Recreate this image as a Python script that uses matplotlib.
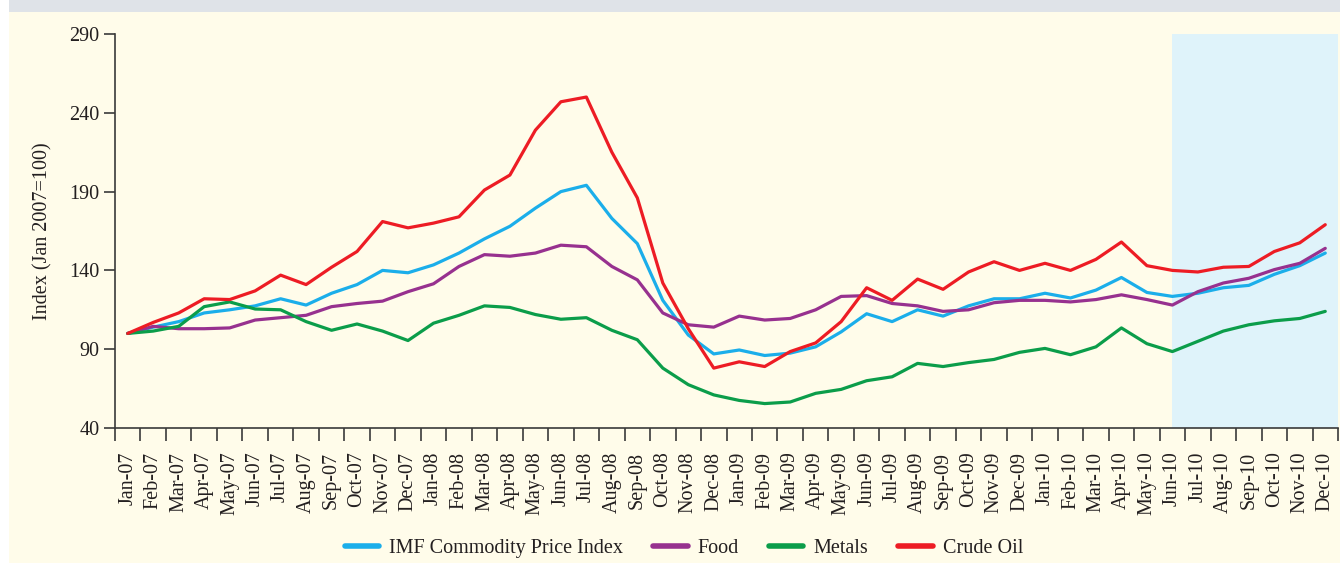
import numpy as np
import matplotlib
matplotlib.use('Agg')
import matplotlib.pyplot as plt
from matplotlib.patches import Rectangle
from matplotlib.ticker import FixedLocator, NullFormatter

# ----------------------------------------------------------------
# Data: monthly index values (Jan 2007 = 100)
# ----------------------------------------------------------------
months = ['Jan-07', 'Feb-07', 'Mar-07', 'Apr-07', 'May-07', 'Jun-07', 'Jul-07', 'Aug-07',
          'Sep-07', 'Oct-07', 'Nov-07', 'Dec-07', 'Jan-08', 'Feb-08', 'Mar-08', 'Apr-08',
          'May-08', 'Jun-08', 'Jul-08', 'Aug-08', 'Sep-08', 'Oct-08', 'Nov-08', 'Dec-08',
          'Jan-09', 'Feb-09', 'Mar-09', 'Apr-09', 'May-09', 'Jun-09', 'Jul-09', 'Aug-09',
          'Sep-09', 'Oct-09', 'Nov-09', 'Dec-09', 'Jan-10', 'Feb-10', 'Mar-10', 'Apr-10',
          'May-10', 'Jun-10', 'Jul-10', 'Aug-10', 'Sep-10', 'Oct-10', 'Nov-10', 'Dec-10']

imf_index = [100, 104, 107.5, 113, 115, 117.5, 122, 118, 125.5, 131, 140, 138.5,
             143.5, 151, 160, 168, 179.5, 190, 194, 173, 157, 121, 99, 87,
             89.5, 86, 87.5, 91.5, 101, 112.5, 107.5, 115, 111, 117.5, 122, 122,
             125.5, 122.5, 127.5, 135.5, 126, 123.5, 125.5, 129, 130.5, 137.5, 143, 151]

food = [100, 104.5, 103, 103, 103.5, 108.5, 110, 111.5, 117, 119, 120.5, 126.5,
        131.5, 142.5, 150, 149, 151, 156, 155, 142.5, 134, 113, 105.5, 104,
        111, 108.5, 109.5, 115, 123.5, 124, 119, 117.5, 114, 115, 119.5, 121,
        121, 120, 121.5, 124.5, 121.5, 118, 126.5, 132, 135, 140.5, 144.5, 154]

metals = [100, 101.5, 104.5, 117, 120, 115.5, 115, 107.5, 102, 106, 101.5, 95.5,
          106.5, 111.5, 117.5, 116.5, 112, 109, 110, 102, 96, 78, 67.5, 61,
          57.5, 55.5, 56.5, 62, 64.5, 70, 72.5, 81, 79, 81.5, 83.5, 88,
          90.5, 86.5, 91.5, 103.5, 93.5, 88.5, 95, 101.5, 105.5, 108, 109.5, 114]

crude_oil = [100, 107, 113, 122, 121.5, 127, 137, 131, 142, 152, 171, 167,
             170, 174, 191, 200.5, 229, 247, 250, 215, 186, 132, 103, 78,
             82, 79, 88.5, 94, 107.5, 129, 121, 134.5, 128, 139, 145.5, 140,
             144.5, 140, 147, 158, 143, 140, 139, 142, 142.5, 152, 157.5, 169]

y_ticks = [40, 90, 140, 190, 240, 290]
shade_start = 'Jun-10'

series = [('IMF Commodity Price Index', imf_index, '#1BAEEA'),
          ('Food', food, '#97318F'),
          ('Metals', metals, '#0B9D4A'),
          ('Crude Oil', crude_oil, '#ED1C24')]

# ----------------------------------------------------------------
# Figure
# ----------------------------------------------------------------
plt.rcParams['font.family'] = ['Liberation Serif', 'DejaVu Serif']
TXT = '#231F20'
CREAM = '#FFFCEA'
FS = 14.5

fig = plt.figure(figsize=(13.4, 5.63), dpi=100, facecolor='white')
# panel background + grey header strip
fig.patches.append(Rectangle((9 / 1340, 0), 1 - 9 / 1340, 1 - 12 / 563,
                             transform=fig.transFigure, facecolor=CREAM,
                             edgecolor='none', zorder=-10))
fig.patches.append(Rectangle((9 / 1340, 1 - 12 / 563), 1 - 9 / 1340, 12 / 563,
                             transform=fig.transFigure, facecolor='#DFE3E8',
                             edgecolor='none', zorder=-10))

ax = fig.add_axes([115 / 1340, 1 - 428 / 563, 1223 / 1340, 394 / 563])
ax.set_facecolor('none')

x = np.arange(len(months))
i0 = months.index(shade_start)
ax.axvspan(i0, len(months) - 0.5, color='#DFF3FA', lw=0, zorder=0)

for name, vals, col in series:
    ax.plot(x, vals, color=col, lw=2.3, label=name, zorder=3,
            solid_joinstyle='round', solid_capstyle='round')

ax.set_xlim(-0.5, len(months) - 0.5)
ax.set_ylim(y_ticks[0], y_ticks[-1])

ax.set_yticks(y_ticks)
ax.tick_params(axis='y', direction='out', length=8, width=1.2, pad=3,
               labelsize=FS, colors='#3A3A3A', labelcolor=TXT)

ax.set_xticks(x)
ax.set_xticklabels(months, rotation=90, ha='center', va='top')
ax.xaxis.set_minor_locator(FixedLocator(np.arange(-0.5, len(months), 1.0)))
ax.xaxis.set_minor_formatter(NullFormatter())
ax.tick_params(axis='x', which='major', length=0, pad=17, labelsize=FS,
               labelcolor=TXT)
ax.tick_params(axis='x', which='minor', direction='out', length=9, width=1.2,
               colors='#3A3A3A')

for s in ['top', 'right']:
    ax.spines[s].set_visible(False)
for s in ['left', 'bottom']:
    ax.spines[s].set_color('#3A3A3A')
    ax.spines[s].set_linewidth(1.2)
ax.spines['left'].set_bounds(y_ticks[0], y_ticks[-1])

ax.set_ylabel('Index (Jan 2007=100)', fontsize=FS, color=TXT)
ax.yaxis.set_label_coords(-0.0515, 0.5)

handles, labels = ax.get_legend_handles_labels()
leg = fig.legend(handles, labels, loc='center', bbox_to_anchor=(684 / 1340, 15 / 563),
                 ncol=4, frameon=False, fontsize=FS, handlelength=1.7,
                 handletextpad=0.5, columnspacing=1.5)
for ln in leg.get_lines():
    ln.set_linewidth(4)
for t in leg.get_texts():
    t.set_color(TXT)

fig.savefig('out.png', dpi=100, facecolor=fig.get_facecolor())
